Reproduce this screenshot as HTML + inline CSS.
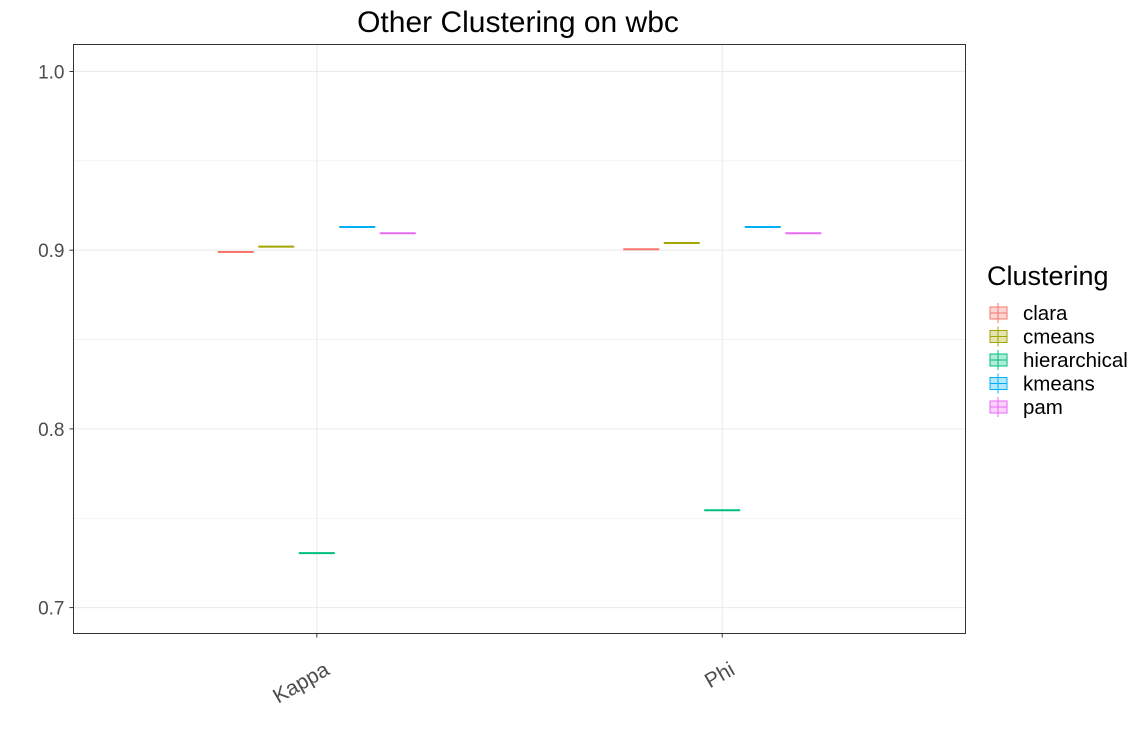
<!DOCTYPE html>
<html><head><meta charset="utf-8"><style>
body{margin:0;background:#fff;font-family:"Liberation Sans",sans-serif}
</style></head><body>
<svg width="1146" height="725" xmlns="http://www.w3.org/2000/svg" font-family="Liberation Sans, sans-serif">
<text x="518" y="32" font-size="30" text-anchor="middle" fill="#000">Other Clustering on wbc</text>
<g id="grid"></g>
<g id="marks"></g>
<rect x="73.5" y="44.5" width="892" height="589" fill="none" stroke="#333" stroke-width="1"/>
<g id="axes"></g>
<g id="legend">
<text x="987" y="285" font-size="27" fill="#000">Clustering</text>
</g>
</svg>
<script>
const categories=["Kappa","Phi"];
const groups=["clara","cmeans","hierarchical","kmeans","pam"];
const colors=["#F8766D","#A3A500","#00BF7D","#00B0F6","#E76BF3"];
const kappaValues=[0.899,0.902,0.7305,0.913,0.9095];
const phiValues=[0.9005,0.904,0.7545,0.913,0.9095];
const yTicks=[0.7,0.8,0.9,1.0];
const yMinor=[0.75,0.85,0.95];
const series=[kappaValues,phiValues];
const NS="http://www.w3.org/2000/svg";
const L=73.5,R=965.5,T=44.5,B=633.5;
const yMin=0.6855,yMax=1.0151;
function y(v){return B-(v-yMin)/(yMax-yMin)*(B-T);}
function x(i){return L+(0.6+i)/(categories.length+0.2)*(R-L);}
function mk(tag,a,parent){const e=document.createElementNS(NS,tag);for(const k in a)e.setAttribute(k,a[k]);parent.appendChild(e);return e;}
const grid=document.getElementById('grid'),marks=document.getElementById('marks'),axes=document.getElementById('axes'),leg=document.getElementById('legend');
yMinor.forEach(v=>{const l=mk('line',{x1:L,x2:R,y1:y(v),y2:y(v),stroke:'#ebebeb','stroke-width':0.6},grid);

});
yTicks.forEach(v=>{const l=mk('line',{x1:L,x2:R,y1:y(v),y2:y(v),stroke:'#ebebeb','stroke-width':1.1},grid);


const tk=mk('line',{x1:L-4,x2:L,y1:y(v),y2:y(v),stroke:'#333'},axes);


const t=mk('text',{x:L-9,y:y(v)+7,'font-size':19,'text-anchor':'end',fill:'#4d4d4d'},axes);t.textContent=v.toFixed(1);

});
categories.forEach((c,i)=>{const cx=x(i);
const g=mk('line',{x1:cx,x2:cx,y1:T,y2:B,stroke:'#ebebeb','stroke-width':1.1},grid);


const tk=mk('line',{x1:cx,x2:cx,y1:B,y2:B+4,stroke:'#333'},axes);


const ax=cx+14,ay=B+40;
const t=mk('text',{x:ax,y:ay,'font-size':21,'text-anchor':'end',fill:'#4d4d4d',transform:`rotate(-30 ${ax} ${ay})`},axes);t.textContent=c;


groups.forEach((gname,j)=>{const v=series[i][j];const bx=cx+(j-2)*40.5;
const r=mk('line',{x1:bx-18,x2:bx+18,y1:y(v),y2:y(v),stroke:colors[j],'stroke-width':2},marks);

});});
groups.forEach((gname,j)=>{const ly=313+j*23.5;
const w=mk('line',{x1:998,x2:998,y1:ly-10,y2:ly+10,stroke:colors[j]},leg);


const b=mk('rect',{x:990,y:ly-6,width:17,height:12,fill:colors[j],'fill-opacity':0.3,stroke:colors[j]},leg);


mk('line',{x1:990,x2:1007,y1:ly,y2:ly,stroke:colors[j]},leg);
const t=mk('text',{x:1023,y:ly+7,'font-size':20.5,fill:'#000'},leg);t.textContent=gname;

});
</script>
</body></html>
